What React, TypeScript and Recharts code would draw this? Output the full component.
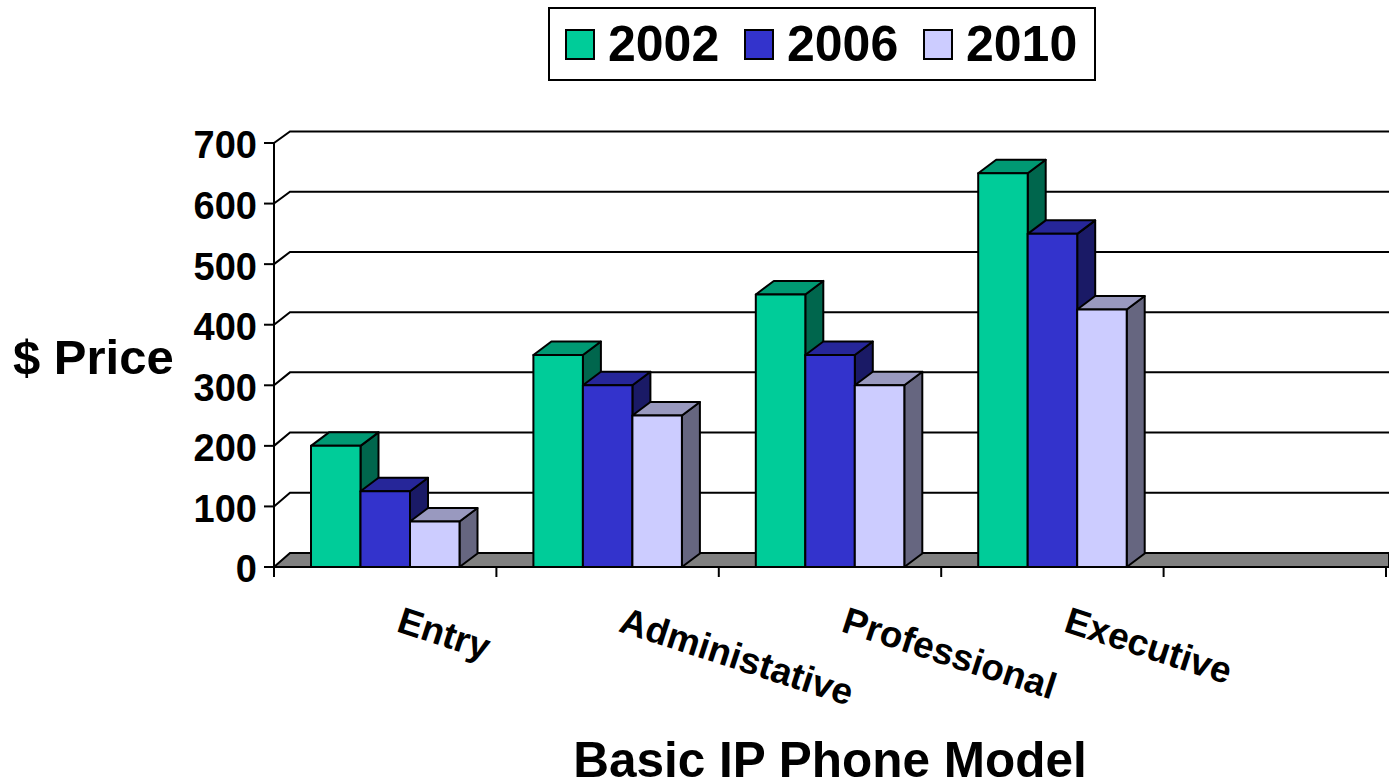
import React from 'react';
import { BarChart, Bar, XAxis, YAxis, CartesianGrid, Legend } from 'recharts';

const categories = ['Entry', 'Administative', 'Professional', 'Executive', ' '];
const values2002 = [200, 350, 450, 650, null];
const values2006 = [125, 300, 350, 550, null];
const values2010 = [75, 250, 300, 425, null];
const yTicks = [0, 100, 200, 300, 400, 500, 600, 700];

const FONT = '"Liberation Sans", Arial, sans-serif';
const DEPTH_X = 18;
const DEPTH_Y = 13.5;

const shades: Record<string, { top: string; side: string }> = {
  '#00CC99': { top: '#009973', side: '#00664D' },
  '#3333CC': { top: '#262699', side: '#1A1A66' },
  '#CCCCFF': { top: '#9999BF', side: '#666680' },
};

const table = categories.map((name, i) => ({
  name,
  y2002: values2002[i],
  y2006: values2006[i],
  y2010: values2010[i],
}));

function Bar3D(props: any) {
  const { x, y, width, height, fill } = props;
  if (!height || height <= 0) return null;
  const s = shades[fill];
  const common = { stroke: '#000', strokeWidth: 2, strokeLinejoin: 'round' as const };
  return (
    <g>
      <polygon
        points={`${x + width},${y} ${x + width + DEPTH_X},${y - DEPTH_Y} ${x + width + DEPTH_X},${y + height - DEPTH_Y} ${x + width},${y + height}`}
        fill={s.side}
        {...common}
      />
      <polygon
        points={`${x},${y} ${x + DEPTH_X},${y - DEPTH_Y} ${x + width + DEPTH_X},${y - DEPTH_Y} ${x + width},${y}`}
        fill={s.top}
        {...common}
      />
      <rect x={x} y={y} width={width} height={height} fill={fill} {...common} />
    </g>
  );
}

function GridLine(props: any) {
  const { x1, y1, x2 } = props;
  const lift = 11.5 + 2.5 * ((y1 - 143) / 424);
  const bx = x1 + 16;
  const by = y1 - lift;
  if (y1 > 560) {
    return (
      <polygon
        points={`${x1},${y1} ${bx},${by} ${x2 + 3},${by} ${x2 + 3},${y1}`}
        fill="#808080"
        stroke="#000"
        strokeWidth={2}
      />
    );
  }
  return (
    <polyline
      points={`${x1},${y1} ${bx},${by} ${x2 + 3},${by}`}
      fill="none"
      stroke="#000"
      strokeWidth={2}
    />
  );
}

function XTick(props: any) {
  const { x, y, index, payload } = props;
  const band = 222.4;
  const left = x - band / 2;
  const ox = x + 10;
  const oy = y + 56;
  return (
    <g>
      <line x1={left} y1={567} x2={left} y2={577} stroke="#000" strokeWidth={2} />
      {index === categories.length - 1 && (
        <line x1={left + band} y1={567} x2={left + band} y2={577} stroke="#000" strokeWidth={2} />
      )}
      <text
        x={ox}
        y={oy}
        transform={`rotate(18 ${ox} ${oy})`}
        fontFamily={FONT}
        fontWeight="bold"
        fontSize={37}
        fill="#000"
      >
        {payload.value}
      </text>
    </g>
  );
}

function LegendBox(props: any) {
  const { payload } = props;
  return (
    <div
      style={{
        boxSizing: 'border-box',
        width: 548,
        height: 74,
        border: '2px solid #000',
        background: '#fff',
        display: 'flex',
        alignItems: 'center',
        paddingLeft: 15,
        fontFamily: FONT,
        fontWeight: 'bold',
        fontSize: 50,
        color: '#000',
      }}
    >
      {payload.map((p: any) => (
        <div key={p.value} style={{ display: 'flex', alignItems: 'center', width: 179, flexShrink: 0 }}>
          <span
            style={{
              display: 'inline-block',
              boxSizing: 'border-box',
              width: 30,
              height: 31,
              background: p.color,
              border: '2px solid #000',
              marginRight: 13,
            }}
          />
          <span>{p.value}</span>
        </div>
      ))}
    </div>
  );
}

export default function App() {
  return (
    <div style={{ position: 'absolute', left: 0, top: 0, width: 1389, height: 780, background: '#fff' }}>
      <BarChart
        width={1389}
        height={780}
        data={table}
        margin={{ top: 143, right: 3, bottom: 183, left: 174 }}
        barGap={0}
        barSize={49.5}
      >
        <CartesianGrid horizontal={GridLine as any} vertical={false} />
        <XAxis
          dataKey="name"
          interval={0}
          height={30}
          axisLine={{ stroke: '#000', strokeWidth: 2 }}
          tickLine={false}
          tick={XTick as any}
          label={{
            content: () => (
              <text x={830} y={777} textAnchor="middle" fontFamily={FONT} fontWeight="bold" fontSize={49.5} fill="#000">
                Basic IP Phone Model
              </text>
            ),
          } as any}
        />
        <YAxis
          width={100}
          domain={[0, 700]}
          ticks={yTicks}
          interval={0}
          axisLine={{ stroke: '#000', strokeWidth: 2 }}
          tickLine={{ stroke: '#000', strokeWidth: 2 }}
          tickSize={10}
          tickMargin={7}
          tick={{ fontFamily: FONT, fontWeight: 'bold', fontSize: 38, fill: '#000', dy: 2 }}
          label={{
            content: () => (
              <text x={13} y={374} fontFamily={FONT} fontWeight="bold" fontSize={49} fill="#000">
                $ Price
              </text>
            ),
          } as any}
        />
        <Legend
          layout="horizontal"
          verticalAlign="middle"
          wrapperStyle={{ left: 548, top: 7, width: 548 }}
          content={LegendBox as any}
        />
        <Bar dataKey="y2002" name="2002" fill="#00CC99" shape={Bar3D} isAnimationActive={false} />
        <Bar dataKey="y2006" name="2006" fill="#3333CC" shape={Bar3D} isAnimationActive={false} />
        <Bar dataKey="y2010" name="2010" fill="#CCCCFF" shape={Bar3D} isAnimationActive={false} />
      </BarChart>
    </div>
  );
}
